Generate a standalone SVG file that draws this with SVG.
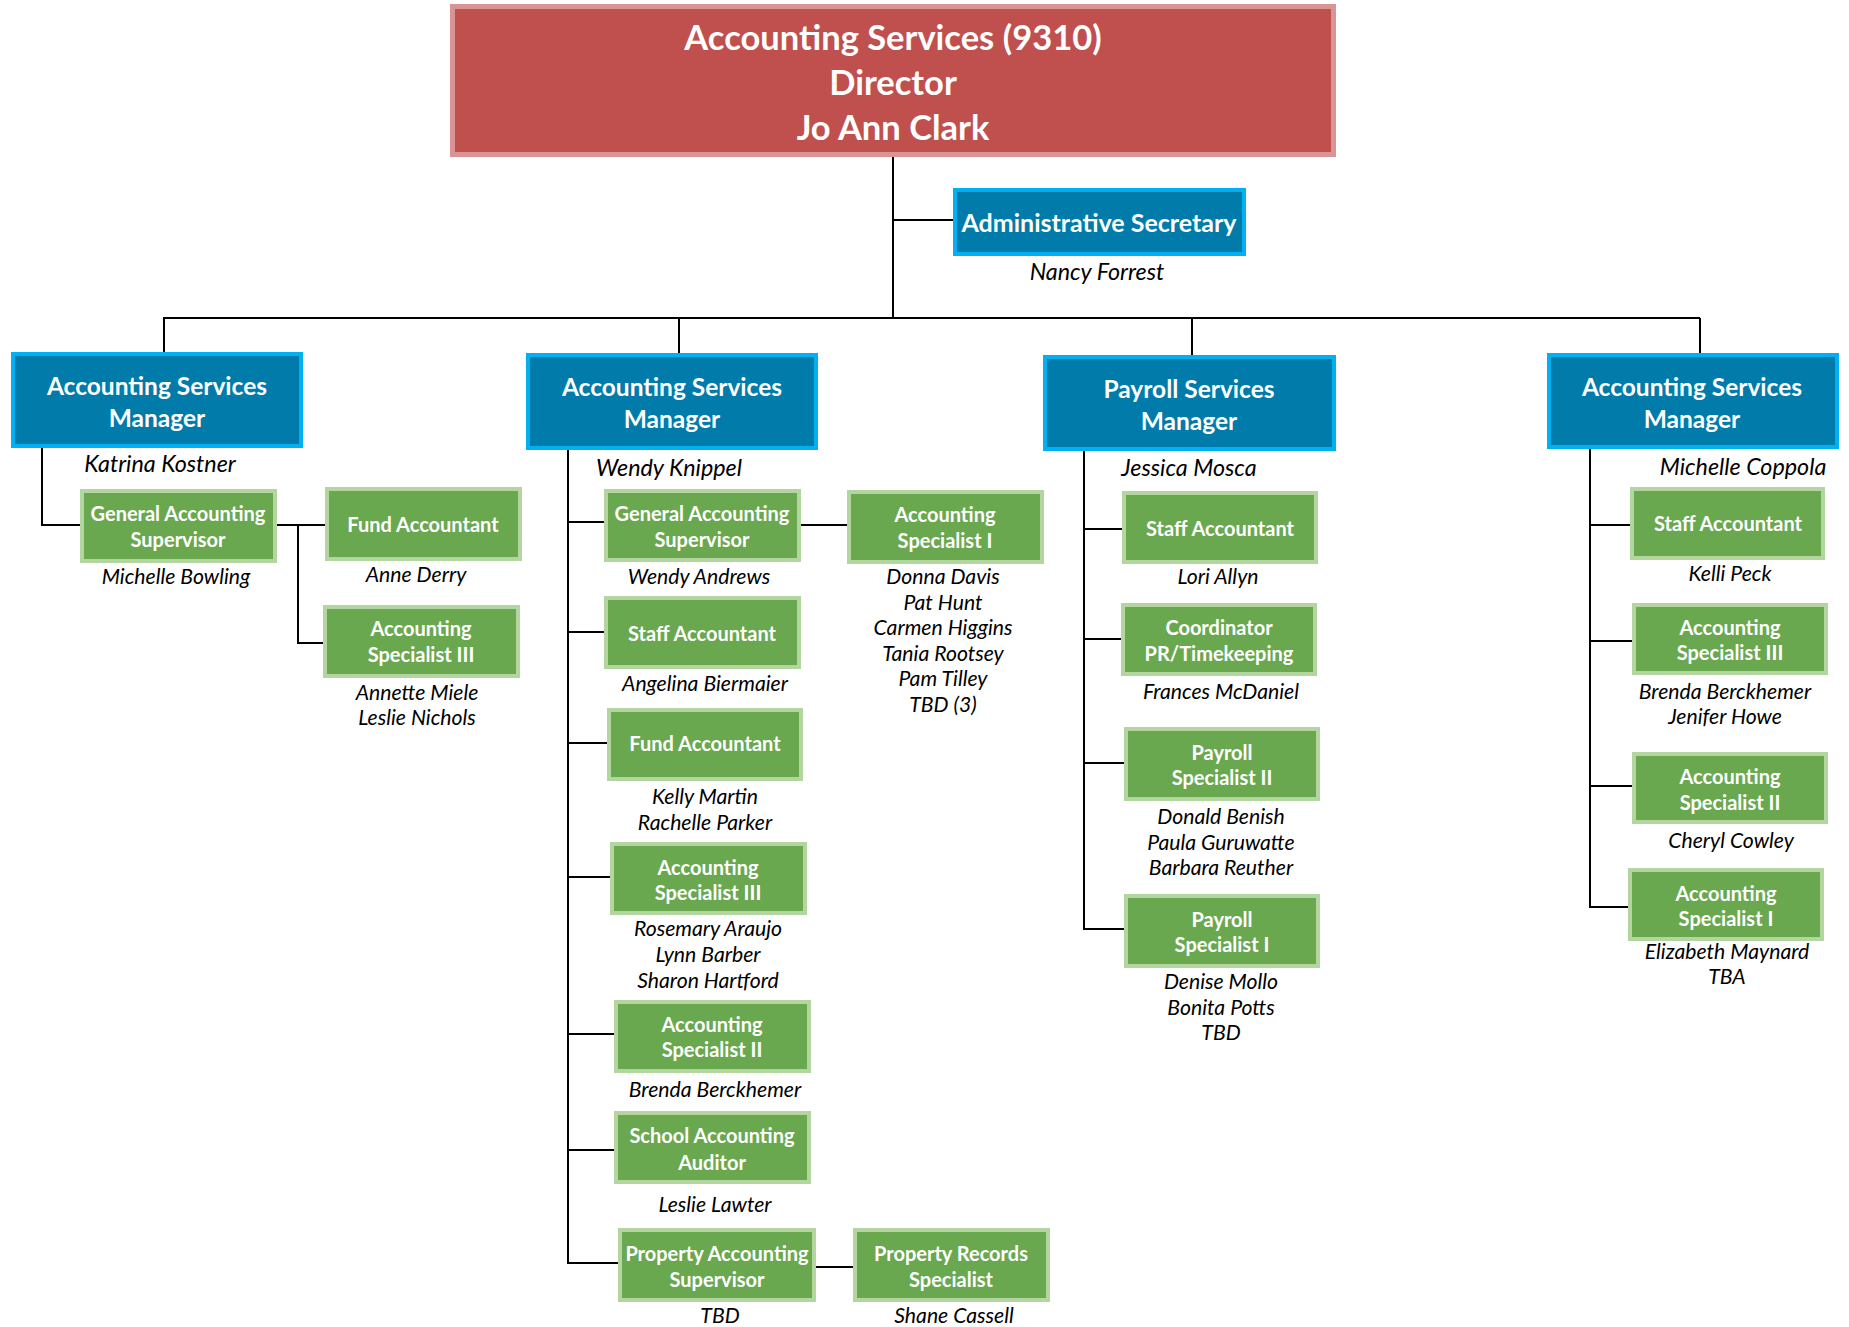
<svg xmlns="http://www.w3.org/2000/svg" width="1849" height="1327" viewBox="0 0 1849 1327">
<style>
.red{fill:#C0504D;stroke:#D99594;stroke-width:5}
.blue{fill:#007BAA;stroke:#00B0F0;stroke-width:4}
.green{fill:#6AA84F;stroke:#B3D5A0;stroke-width:4}
.t{font-family:Lato,"Liberation Sans",sans-serif;font-weight:bold;fill:#fff;text-anchor:middle;dominant-baseline:central}
.dt{font-size:34.5px}
.mt{font-size:24.5px}
.gt{font-size:20px}
.n{font-family:Lato,"Liberation Sans",sans-serif;font-style:italic;font-size:21.2px;fill:#000;text-anchor:middle;dominant-baseline:central}
.nm{font-size:23.3px}
.c{fill:none;stroke:#000;stroke-width:2}
</style>
<g id="connectors" class="c">
<path d="M893 157V318M893 220H953M163 318H1700"/>
<path d="M164 318V352M679 318V353M1192 318V355M1700 318V353"/>
<path d="M42 448V525H80M277 525H325M298 525V643H323"/>
<path d="M568 450V1263H618M568 522H604M568 632H604M568 743H607M568 877H610M568 1034H614M568 1150H614M801 525H847M816 1267H853"/>
<path d="M1084 451V929H1124M1084 529H1122M1084 639H1121M1084 763H1124"/>
<path d="M1590 449V907H1628M1590 525H1630M1590 641H1632M1590 786H1632"/>
</g>
<g id="director">
<rect class="red" x="452.5" y="6.5" width="881" height="148"/>
<text class="t dt" x="893" y="36">Accounting Services (9310)</text>
<text class="t dt" x="893" y="81">Director</text>
<text class="t dt" x="893" y="126">Jo Ann Clark</text>
</g>
<g id="admin-secretary">
<rect class="blue" x="955" y="190" width="289" height="64"/>
<text class="t" style="font-size:25px" x="1099" y="222">Administrative Secretary</text>
<text class="n nm" x="1097" y="271">Nancy Forrest</text>
</g>
<g id="mgr-kostner">
<rect class="blue" x="13" y="354" width="288" height="92"/>
<text class="t mt" x="157" y="385">Accounting Services</text>
<text class="t mt" x="157" y="417">Manager</text>
<text class="n nm" x="160" y="463">Katrina Kostner</text>
</g>
<g id="gas-bowling">
<rect class="green" x="82" y="491" width="193" height="70"/>
<text class="t gt" x="178" y="513">General Accounting</text>
<text class="t gt" x="178" y="539">Supervisor</text>
<text class="n" x="176" y="576">Michelle Bowling</text>
</g>
<g id="fund-derry">
<rect class="green" x="327" y="489" width="193" height="70"/>
<text class="t gt" x="423" y="524">Fund Accountant</text>
<text class="n" x="416" y="574">Anne Derry</text>
</g>
<g id="as3-left">
<rect class="green" x="325" y="607" width="193" height="69"/>
<text class="t gt" x="421" y="628">Accounting</text>
<text class="t gt" x="421" y="654">Specialist III</text>
<text class="n" x="417" y="692">Annette Miele</text>
<text class="n" x="417" y="717">Leslie Nichols</text>
</g>
<g id="mgr-knippel">
<rect class="blue" x="528" y="355" width="288" height="93"/>
<text class="t mt" x="672" y="386">Accounting Services</text>
<text class="t mt" x="672" y="418">Manager</text>
<text class="n nm" x="669" y="467">Wendy Knippel</text>
</g>
<g id="gas-andrews">
<rect class="green" x="606" y="491" width="193" height="69"/>
<text class="t gt" x="702" y="513">General Accounting</text>
<text class="t gt" x="702" y="539">Supervisor</text>
<text class="n" x="699" y="576">Wendy Andrews</text>
</g>
<g id="as1-mid">
<rect class="green" x="849" y="492" width="193" height="70"/>
<text class="t gt" x="945" y="514">Accounting</text>
<text class="t gt" x="945" y="540">Specialist I</text>
<text class="n" x="943" y="576">Donna Davis</text>
<text class="n" x="943" y="602">Pat Hunt</text>
<text class="n" x="943" y="627">Carmen Higgins</text>
<text class="n" x="943" y="653">Tania Rootsey</text>
<text class="n" x="943" y="678">Pam Tilley</text>
<text class="n" x="943" y="704">TBD (3)</text>
</g>
<g id="staff-biermaier">
<rect class="green" x="606" y="598" width="193" height="69"/>
<text class="t gt" x="702" y="633">Staff Accountant</text>
<text class="n" x="705" y="683">Angelina Biermaier</text>
</g>
<g id="fund-mid">
<rect class="green" x="609" y="710" width="192" height="69"/>
<text class="t gt" x="705" y="743">Fund Accountant</text>
<text class="n" x="705" y="796">Kelly Martin</text>
<text class="n" x="705" y="822">Rachelle Parker</text>
</g>
<g id="as3-mid">
<rect class="green" x="612" y="844" width="193" height="69"/>
<text class="t gt" x="708" y="867">Accounting</text>
<text class="t gt" x="708" y="892">Specialist III</text>
<text class="n" x="708" y="928">Rosemary Araujo</text>
<text class="n" x="708" y="954">Lynn Barber</text>
<text class="n" x="708" y="980">Sharon Hartford</text>
</g>
<g id="as2-mid">
<rect class="green" x="616" y="1002" width="193" height="69"/>
<text class="t gt" x="712" y="1024">Accounting</text>
<text class="t gt" x="712" y="1049">Specialist II</text>
<text class="n" x="715" y="1089">Brenda Berckhemer</text>
</g>
<g id="school-auditor">
<rect class="green" x="616" y="1113" width="193" height="69"/>
<text class="t gt" x="712" y="1135">School Accounting</text>
<text class="t gt" x="712" y="1162">Auditor</text>
<text class="n" x="715" y="1204">Leslie Lawter</text>
</g>
<g id="pas">
<rect class="green" x="620" y="1230" width="194" height="70"/>
<text class="t gt" x="717" y="1253">Property Accounting</text>
<text class="t gt" x="717" y="1279">Supervisor</text>
<text class="n" x="720" y="1315">TBD</text>
</g>
<g id="prs">
<rect class="green" x="855" y="1230" width="193" height="70"/>
<text class="t gt" x="951" y="1253">Property Records</text>
<text class="t gt" x="951" y="1279">Specialist</text>
<text class="n" x="954" y="1315">Shane Cassell</text>
</g>
<g id="mgr-mosca">
<rect class="blue" x="1045" y="357" width="289" height="92"/>
<text class="t mt" x="1189" y="388">Payroll Services</text>
<text class="t mt" x="1189" y="420">Manager</text>
<text class="n nm" x="1189" y="467">Jessica Mosca</text>
</g>
<g id="staff-allyn">
<rect class="green" x="1124" y="493" width="192" height="69"/>
<text class="t gt" x="1220" y="528">Staff Accountant</text>
<text class="n" x="1218" y="576">Lori Allyn</text>
</g>
<g id="coordinator">
<rect class="green" x="1123" y="605" width="192" height="69"/>
<text class="t gt" x="1219" y="627">Coordinator</text>
<text class="t gt" x="1219" y="653">PR/Timekeeping</text>
<text class="n" x="1221" y="691">Frances McDaniel</text>
</g>
<g id="ps2">
<rect class="green" x="1126" y="729" width="192" height="70"/>
<text class="t gt" x="1222" y="752">Payroll</text>
<text class="t gt" x="1222" y="777">Specialist II</text>
<text class="n" x="1221" y="816">Donald Benish</text>
<text class="n" x="1221" y="842">Paula Guruwatte</text>
<text class="n" x="1221" y="867">Barbara Reuther</text>
</g>
<g id="ps1">
<rect class="green" x="1126" y="896" width="192" height="70"/>
<text class="t gt" x="1222" y="919">Payroll</text>
<text class="t gt" x="1222" y="944">Specialist I</text>
<text class="n" x="1221" y="981">Denise Mollo</text>
<text class="n" x="1221" y="1007">Bonita Potts</text>
<text class="n" x="1221" y="1032">TBD</text>
</g>
<g id="mgr-coppola">
<rect class="blue" x="1549" y="355" width="288" height="92"/>
<text class="t mt" x="1692" y="386">Accounting Services</text>
<text class="t mt" x="1692" y="418">Manager</text>
<text class="n nm" x="1743" y="466">Michelle Coppola</text>
</g>
<g id="staff-peck">
<rect class="green" x="1632" y="489" width="191" height="69"/>
<text class="t gt" x="1728" y="523">Staff Accountant</text>
<text class="n" x="1730" y="573">Kelli Peck</text>
</g>
<g id="as3-right">
<rect class="green" x="1634" y="605" width="192" height="68"/>
<text class="t gt" x="1730" y="627">Accounting</text>
<text class="t gt" x="1730" y="652">Specialist III</text>
<text class="n" x="1725" y="691">Brenda Berckhemer</text>
<text class="n" x="1725" y="716">Jenifer Howe</text>
</g>
<g id="as2-right">
<rect class="green" x="1634" y="754" width="192" height="68"/>
<text class="t gt" x="1730" y="776">Accounting</text>
<text class="t gt" x="1730" y="802">Specialist II</text>
<text class="n" x="1731" y="840">Cheryl Cowley</text>
</g>
<g id="as1-right">
<rect class="green" x="1630" y="870" width="192" height="69"/>
<text class="t gt" x="1726" y="893">Accounting</text>
<text class="t gt" x="1726" y="918">Specialist I</text>
<text class="n" x="1727" y="951">Elizabeth Maynard</text>
<text class="n" x="1727" y="976">TBA</text>
</g>
</svg>
